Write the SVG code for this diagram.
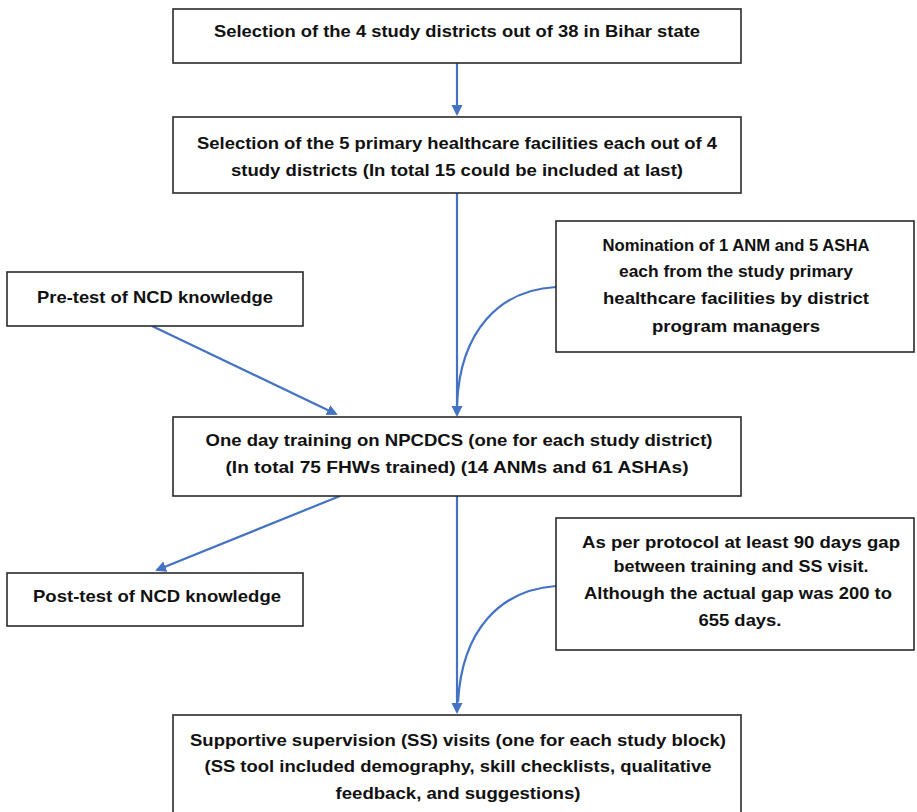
<svg xmlns="http://www.w3.org/2000/svg" width="917" height="812" viewBox="0 0 917 812">
<style>
.box{fill:#fff;stroke:#2a2a2a;stroke-width:1.6}
.t{font-family:"Liberation Sans",Arial,sans-serif;font-weight:bold;font-size:16.5px;fill:#111;text-anchor:middle}
.c{fill:none;stroke:#4472C4;stroke-width:2.2}
</style>
<defs>
<marker id="ah" markerWidth="12" markerHeight="12" refX="9" refY="5.5" orient="auto" markerUnits="userSpaceOnUse">
<path d="M0,0 L11,5.5 L0,11 z" fill="#4472C4"/>
</marker>
</defs>
<rect width="917" height="812" fill="#fff"/>
<g id="connectors">
<line class="c" x1="457" y1="63" x2="457" y2="114" marker-end="url(#ah)"/>
<line class="c" x1="457" y1="193" x2="457" y2="415" marker-end="url(#ah)"/>
<path class="c" d="M556,287 C500,290 460,330 457,405"/>
<line class="c" x1="152" y1="326" x2="336" y2="414" marker-end="url(#ah)"/>
<line class="c" x1="340" y1="496" x2="157" y2="570" marker-end="url(#ah)"/>
<line class="c" x1="457" y1="496" x2="457" y2="712" marker-end="url(#ah)"/>
<path class="c" d="M556,586 C500,590 462,630 458,702"/>
</g>
<g id="n1">
<rect class="box" x="173" y="9" width="568" height="54"/>
<text class="t" x="457" y="37" textLength="486" lengthAdjust="spacingAndGlyphs">Selection of the 4 study districts out of 38 in Bihar state</text>
</g>
<g id="n2">
<rect class="box" x="173" y="117" width="568" height="76"/>
<text class="t" x="457" y="149" textLength="520" lengthAdjust="spacingAndGlyphs">Selection of the 5 primary healthcare facilities each out of 4</text>
<text class="t" x="457" y="176" textLength="452" lengthAdjust="spacingAndGlyphs">study districts (In total 15 could be included at last)</text>
</g>
<g id="n3">
<rect class="box" x="556" y="221" width="358" height="131"/>
<text class="t" x="736" y="251" textLength="267" lengthAdjust="spacingAndGlyphs">Nomination of 1 ANM and 5 ASHA</text>
<text class="t" x="736" y="277" textLength="234" lengthAdjust="spacingAndGlyphs">each from the study primary</text>
<text class="t" x="736" y="304" textLength="266" lengthAdjust="spacingAndGlyphs">healthcare facilities by district</text>
<text class="t" x="736" y="332" textLength="168" lengthAdjust="spacingAndGlyphs">program managers</text>
</g>
<g id="n4">
<rect class="box" x="7" y="272" width="296" height="54"/>
<text class="t" x="155" y="303" textLength="236" lengthAdjust="spacingAndGlyphs">Pre-test of NCD knowledge</text>
</g>
<g id="n5">
<rect class="box" x="173" y="417" width="568" height="79"/>
<text class="t" x="459" y="446" textLength="507" lengthAdjust="spacingAndGlyphs">One day training on NPCDCS (one for each study district)</text>
<text class="t" x="457" y="473" textLength="463" lengthAdjust="spacingAndGlyphs">(In total 75 FHWs trained) (14 ANMs and 61 ASHAs)</text>
</g>
<g id="n6">
<rect class="box" x="7" y="573" width="296" height="53"/>
<text class="t" x="157" y="602" textLength="248" lengthAdjust="spacingAndGlyphs">Post-test of NCD knowledge</text>
</g>
<g id="n7">
<rect class="box" x="556" y="518" width="358" height="132"/>
<text class="t" x="741" y="548" textLength="318" lengthAdjust="spacingAndGlyphs">As per protocol at least 90 days gap</text>
<text class="t" x="741" y="572" textLength="255" lengthAdjust="spacingAndGlyphs">between training and SS visit.</text>
<text class="t" x="738" y="599" textLength="308" lengthAdjust="spacingAndGlyphs">Although the actual gap was 200 to</text>
<text class="t" x="740" y="626" textLength="83" lengthAdjust="spacingAndGlyphs">655 days.</text>
</g>
<g id="n8">
<rect class="box" x="173" y="715" width="568" height="105"/>
<text class="t" x="458" y="746" textLength="536" lengthAdjust="spacingAndGlyphs">Supportive supervision (SS) visits (one for each study block)</text>
<text class="t" x="458" y="772" textLength="507" lengthAdjust="spacingAndGlyphs">(SS tool included demography, skill checklists, qualitative</text>
<text class="t" x="458" y="799" textLength="245" lengthAdjust="spacingAndGlyphs">feedback, and suggestions)</text>
</g>
</svg>
